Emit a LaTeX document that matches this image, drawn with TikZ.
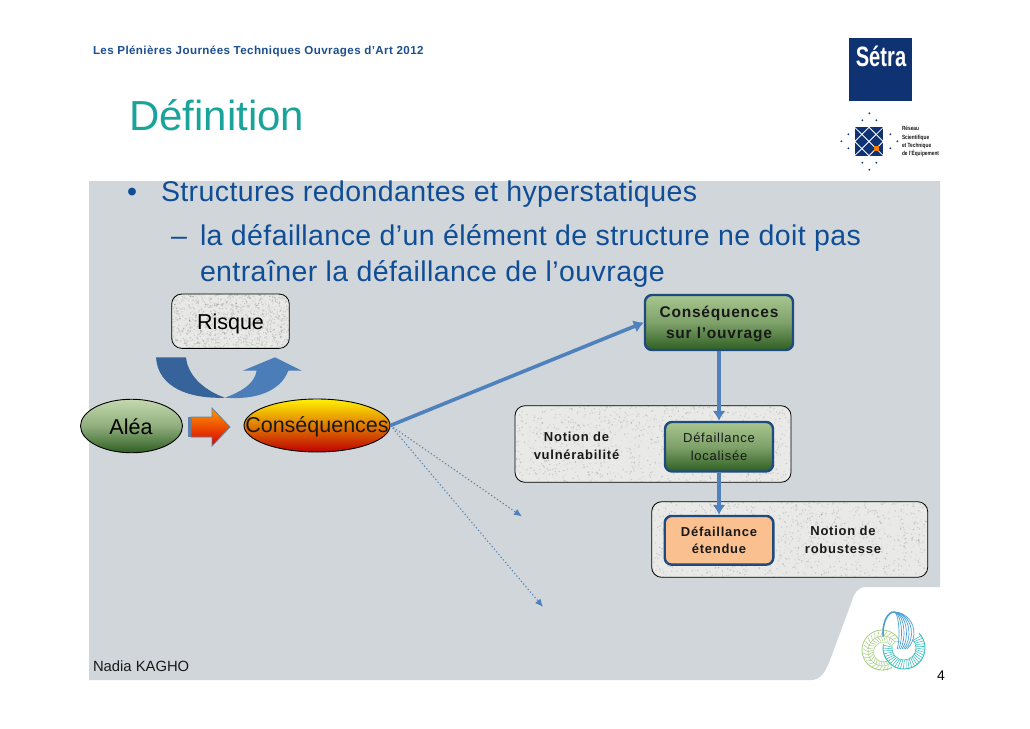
\documentclass[tikz,border=0pt]{standalone}
\usepackage{fontspec}
\setmainfont{Liberation Sans}
\usetikzlibrary{arrows.meta,shapes.geometric,calc}
\definecolor{panelgrey}{HTML}{D0D6DA}
\definecolor{inkblue}{HTML}{0F4E96}
\definecolor{headblue}{HTML}{1B4F8F}
\definecolor{titleteal}{HTML}{1AA39A}
\definecolor{navy}{HTML}{1F4A7D}
\definecolor{arrowblue}{HTML}{4F81BD}
\definecolor{setra}{HTML}{0E3272}
\definecolor{paper}{HTML}{E9E9E7}
\definecolor{greentop}{HTML}{C4D9AE}
\definecolor{boxtop}{HTML}{A9C690}
\definecolor{greenbot}{HTML}{2F5F22}
\definecolor{peach}{HTML}{FAC090}
\definecolor{knotblue}{HTML}{4A9FD0}
\definecolor{knotgreen}{HTML}{A5CF80}
\definecolor{knotteal}{HTML}{35BDBD}
\newcommand{\fs}[2]{\fontsize{#1}{#2}\selectfont}
\newcommand{\trk}[1]{\addfontfeatures{LetterSpace=#1}}
\newcommand{\speckle}[5]{%
 \begin{scope}
  \clip[rounded corners=10pt] (#1,#2) rectangle (#3,#4);
  \fill[paper] (#1,#2) rectangle (#3,#4);
  \pgfmathsetseed{#5}
  \foreach \i in {1,...,1300}{%
    \pgfmathsetmacro{\dx}{#1+rnd*(#3-#1)}%
    \pgfmathsetmacro{\dy}{#2+rnd*(#4-#2)}%
    \pgfmathsetmacro{\dg}{rnd>0.5?45:100}%
    \fill[black!\dg!white,opacity=.13] (\dx,\dy) circle (0.8pt);}
 \end{scope}}
\tikzset{
 x=1pt,y=-1pt,
 txt/.style={anchor=base west,inner sep=0pt,outer sep=0pt},
 sheetline/.style={txt,inkblue,font=\fs{28.5}{28}\trk{1.45}},
 plain panel/.style={draw=black,line width=0.8pt,rounded corners=10pt,inner sep=0pt,fill=none},
 greenbox/.style={draw=navy,line width=2.4pt,rounded corners=7pt,inner sep=0pt,align=center,
   top color=boxtop,bottom color=greenbot,middle color=boxtop!65!greenbot,text=black!90},
 peachbox/.style={draw=navy,line width=2.4pt,rounded corners=7pt,inner sep=0pt,align=center,fill=peach},
 paneltext/.style={inner sep=0pt,align=center,text=black!90,font=\fs{13}{18}\bfseries\trk{5.7}},
 blueflow/.style={draw=arrowblue,line width=3.2pt,-{Latex[length=10pt,width=13pt]}},
 dotflow/.style={draw=arrowblue,line width=1.1pt,dash pattern=on 1.2pt off 2.3pt,-{Latex[length=8pt,width=7pt]}},
 ovaltext/.style={inner sep=0pt,font=\fs{21.5}{22}}
}
\begin{document}
\begin{tikzpicture}
\useasboundingbox (0,0) rectangle (1030,728);
\fill[white] (0,0) rectangle (1030,728);
% grey sheet
\fill[panelgrey] (89,181) -- (940,181) -- (940,587) -- (866,587)
  .. controls (858,587) and (854,593) .. (851.7,601.7) -- (830,660)
  .. controls (825,673) and (820,680) .. (811,680) -- (89,680) -- cycle;
% header
\node[txt,headblue,font=\fs{11.6}{12}\bfseries\trk{3.4}] (hdr) at (93,54) {Les Plénières Journées Techniques Ouvrages d’Art 2012};
\node[txt,titleteal,font=\fs{42}{42}] (ttl) at (129,130) {Définition};
\node[sheetline] (bul) at (127,201) {•};
\node[sheetline] (l1) at (161,201) {Structures redondantes et hyperstatiques};
\node[sheetline] (dash) at (171,245) {–};
\node[sheetline] (l2) at (200,245) {la défaillance d’un élément de structure ne doit pas};
\node[sheetline] (l3) at (200,281) {entraîner la défaillance de l’ouvrage};
\node[txt,black!90,font=\fs{14.8}{15}] (auth) at (93,671) {Nadia KAGHO};
\node[txt,black,font=\fs{14}{14}] (pg) at (937,680) {4};
% Sétra logo
\fill[setra] (849,38) rectangle (912,101);
\node[white,inner sep=0pt,font=\fs{28}{28}\bfseries] (setlogo) at (881,56.5) {\scalebox{0.72}[1]{Sétra}};
% network logo
\fill[setra] (854.7,127.3) rectangle (883.3,155.7);
\begin{scope}[white,line width=0.8pt]
\draw (854.7,127.3) -- (883.3,155.7) (854.7,155.7) -- (883.3,127.3);
\draw (869,127.3) -- (883.3,141.5) -- (869,155.7) -- (854.7,141.5) -- cycle;
\end{scope}
\fill[orange!85!brown] (873.8,145.8) rectangle (878.8,150.8);
\foreach \px/\py in {869.3/113.3,862.3/120.3,876.3/120.3,848.3/134.3,848.3/148.3,841.3/141.3,890.3/134.3,890.3/148.3,897.3/141.3,862.3/162.7,876.3/162.7,869.3/169.7}
  \fill[setra] (\px,\py) circle (1pt);
\node[txt,black!90,font=\fs{6}{7.6}\bfseries,align=left,anchor=north west] (rst) at (902,126.5) {\scalebox{0.8}[1]{Réseau}\\[0.6pt]\scalebox{0.8}[1]{Scientifique}\\[0.6pt]\scalebox{0.8}[1]{et Technique}\\[0.6pt]\scalebox{0.8}[1]{de l’Équipement}};
% knot logo: green lobe
\begin{scope}[knotgreen,line width=0.5pt]
\coordinate (kg) at (882,650);
\draw[line width=0.8pt] (kg) ++(35:20pt) arc[start angle=35,end angle=300,radius=20pt];
\draw (883.5,652) ++(35:10pt) arc[start angle=35,end angle=290,radius=10pt];
\draw (883,651) ++(35:15pt) arc[start angle=35,end angle=295,radius=15pt];
\foreach \a in {30,42,...,300}{
  \draw (883,651) ++(\a:10pt) -- ($(883,651)+(\a+9:15pt)$) -- ($(883,651)+(\a:20pt)$);
}
\end{scope}
% teal lobe
\begin{scope}[knotteal,line width=0.55pt]
\coordinate (kt) at (904,648);
\draw[line width=0.9pt] (kt) ++(45:21pt) arc[start angle=45,end angle=-190,radius=21pt];
\draw (kt) ++(45:12pt) arc[start angle=45,end angle=-190,radius=12pt];
\foreach \a in {40,32,...,-188}{
  \draw ($(kt)+(\a:12pt)$) -- ($(kt)+(\a-4:21pt)$);
}
\end{scope}
% blue lobe
\begin{scope}[knotblue,line width=0.7pt]
\foreach \r in {5,7.5,...,20}{
  \draw (894,633) ++(100:\r pt and 21pt) arc[start angle=100,end angle=-50,x radius=\r pt,y radius=21pt];
}
\draw[line width=1.6pt] (894,633) ++(100:11pt and 21pt) arc[start angle=100,end angle=190,x radius=11pt,y radius=21pt];
\end{scope}
% flow panels
\speckle{171.7}{294}{289.3}{348.3}{11}
\speckle{515}{405.7}{791}{482.3}{23}
\speckle{651.7}{501.7}{927.7}{577.3}{37}
\node[plain panel,minimum width=117.6pt,minimum height=54.3pt] (risque) at (230.5,321.2) {};
\node[ovaltext] (trisque) at (230.5,324) {Risque};
\node[plain panel,minimum width=276pt,minimum height=76.6pt] (vuln) at (653,444) {};
\node[plain panel,minimum width=276pt,minimum height=75.6pt] (rob) at (789.7,539.5) {};
\node[paneltext] (tvuln) at (576.5,446) {Notion de\\vulnérabilité};
\node[paneltext] (trob) at (843,540) {Notion de\\robustesse};
% curved arrows
\path[fill=navy!55!arrowblue]
  (156,357.3) -- (186,357.3) .. controls (188,378) and (208,392) .. (225,397.7)
  .. controls (190,399) and (158,388) .. cycle;
\path[fill=arrowblue!92!navy]
  (225,397.7) .. controls (240,392) and (254,385) .. (256.7,370.7) -- (242.7,370.7)
  -- (275,357.3) -- (301.7,370.7) -- (288.3,370.7)
  .. controls (280,392) and (255,400) .. (225,397.7) -- cycle;
% Aléa, Conséquences
\node[ellipse,draw=black,line width=0.9pt,top color=greentop,bottom color=greenbot,middle color=greentop!65!greenbot,
  minimum width=102pt,minimum height=53.5pt,inner sep=0pt] (alea) at (131.5,426) {};
\node[ovaltext] (talea) at (131,427) {Aléa};
\node[ellipse,draw=black,line width=0.9pt,top color=yellow!90!orange,middle color=orange!80!red,bottom color=red!75!black,
  minimum width=146pt,minimum height=53pt,inner sep=0pt] (cons) at (317,425.5) {};
\node[ovaltext,text=black!90] (tcons) at (317,427) {Conséquences};
% block arrow
\fill[arrowblue!70!gray] (188,417) rectangle (193,437);
\path[top color=orange!80!yellow,bottom color=red!85!black,draw=arrowblue!55!gray,line width=0.8pt]
  (191,417) -- (212,417) -- (212,408) -- (230,427) -- (212,446) -- (212,437) -- (191,437) -- cycle;
% boxes
\node[greenbox,minimum width=148pt,minimum height=55pt] (ouv) at (719,322.5) {};
\node[inner sep=0pt,align=center,text=black!90,font=\fs{15.5}{21}\bfseries\trk{5}] (touv) at (719,324) {Conséquences\\sur l’ouvrage};
\node[greenbox,minimum width=108pt,minimum height=49.5pt,font=\fs{13}{18}\trk{5.7}] (loc) at (719,446.7) {Défaillance\\localisée};
\node[peachbox,minimum width=108.6pt,minimum height=48.7pt,font=\fs{13}{17.5}\bfseries\trk{5.7},text=black!90] (eten) at (719,540.3) {Défaillance\\étendue};
% connectors
\coordinate (d1) at (522,516.5);
\coordinate (d2) at (543,607);
\draw[dotflow] (cons.east) -- (d1);
\draw[dotflow] (cons.east) -- (d2);
\draw[blueflow,line width=3.6pt] (cons.east) -- (ouv.west);
\draw[blueflow] (ouv.south) -- (loc.north);
\draw[blueflow] (loc.south) -- (eten.north);
\end{tikzpicture}
\end{document}
